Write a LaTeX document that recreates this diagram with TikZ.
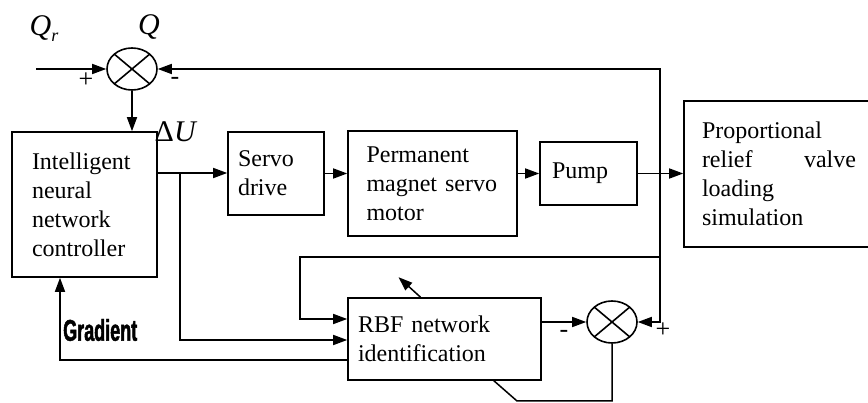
\documentclass[tikz,border=0pt]{standalone}
\usepackage{fontspec}
\setmainfont{Liberation Serif}
\newfontfamily\gradfont[FakeStretch=0.6, FakeBold=1.5]{Liberation Sans}
\usetikzlibrary{shapes.geometric, arrows.meta, positioning, calc}

\begin{document}
\begin{tikzpicture}[
        x=1pt, y=-1pt,
        box/.style={rectangle, draw, line width=1.6pt, align=left, inner sep=0pt, font=\fontsize{24}{29}\selectfont},
        sumnode/.style={ellipse, draw, line width=1.6pt, minimum width=50pt, minimum height=42pt,
            path picture={\draw[line width=1.6pt] (path picture bounding box.north west) -- (path picture bounding box.south east)
                (path picture bounding box.north east) -- (path picture bounding box.south west);}},
        arrow/.style={line width=1.5pt, -{Triangle[length=14pt,width=10pt]}},
        line/.style={line width=1.5pt},
        sign/.style={font=\fontsize{26}{26}\selectfont, inner sep=0pt},
        lbl/.style={font=\fontsize{30}{30}\selectfont, inner sep=0pt}
        ]
        \useasboundingbox (0,0) rectangle (868,403);
        \clip (0,0) rectangle (868,403);

        \node[box, minimum width=145pt, minimum height=145pt, text width=105pt] (ctrl) at (84.5,204.5) {Intelligent\\neural\\network\\controller};
        \node[box, minimum width=96pt, minimum height=83pt, text width=76pt] (servo) at (276,173.5) {Servo\\drive};
        \node[box, minimum width=169pt, minimum height=105pt, text width=132pt] (pm) at (432.5,183.5) {Permanent\\magnet servo\\motor};
        \node[box, minimum width=97pt, minimum height=63pt, text width=73pt] (pump) at (588.5,173.5) {Pump};
        \node[box, minimum width=190pt, minimum height=146pt, text width=154pt] (prop) at (779,174) {Proportional\\relief\hskip 0pt plus 1fill valve\\loading\\simulation};
        \node[box, minimum width=193pt, minimum height=82pt, text width=173pt] (rbf) at (444.5,339) {RBF network\\identification};

        \node[sumnode] (sum1) at (132,69) {};
        \node[sumnode] (sum2) at (612,322) {};

        \coordinate (qin) at (36,69);
        \coordinate (du) at (180,173);
        \coordinate (fb) at (660,173);
        \coordinate (fbl) at (660,257);
        \coordinate (loop) at (300,257);
        \coordinate (gr) at (60,360);
        \coordinate (adj) at (517,401);

        \draw[arrow] (qin) -- (sum1.west);
        \draw[arrow] (fb) |- (sum1.east);
        \draw[arrow] (sum1.south) -- (ctrl.north -| sum1.south);
        \draw[arrow] (du -| ctrl.east) -- (du -| servo.west);
        \draw[arrow] (servo.east) -- (servo.east -| pm.west);
        \draw[arrow] (pump.west -| pm.east) -- (pump.west);
        \draw[arrow] (pump.east) -- (pump.east -| prop.west);
        \draw[arrow] (fb) |- (sum2.east);
        \draw[arrow] (fbl) -- (loop) |- ($(rbf.west)+(0,-20)$);
        \draw[arrow] (du) |- ($(rbf.west)+(0,1)$);
        \draw[arrow] ($(rbf.west)+(0,21)$) -- (gr) -- (gr |- ctrl.south);
        \draw[arrow] (sum2.west -| rbf.east) -- (sum2.west);
        \draw[line] (sum2.south) |- (adj) -- ++(-24,-21);
        \draw[arrow] ($(rbf.north)+(-24,0)$) -- ++(-22,-20);

        \node[lbl] (qr) at (44,29) {\itshape Q\raisebox{-6pt}{\fontsize{18}{18}\selectfont r}};
        \node[lbl] (q) at (149,27) {\itshape Q};
        \node[lbl] (dulbl) at (176,132) {Δ\textit{U}};
        \node[sign] (p1) at (86,80) {+};
        \node[sign] (m1) at (175,81) {-};
        \node[sign] (m2) at (564,334) {-};
        \node[sign] (p2) at (663,330) {+};
        \node[font=\gradfont\bfseries\fontsize{30}{30}\selectfont, anchor=west, inner sep=0pt] (grad) at (63,330) {Gradient};
    \end{tikzpicture}
\end{document}
